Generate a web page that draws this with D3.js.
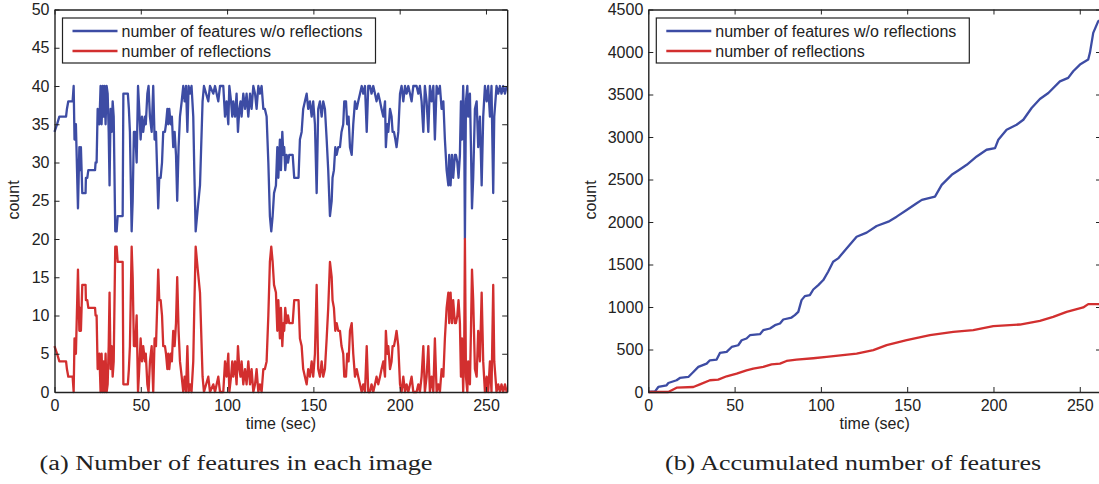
<!DOCTYPE html>
<html>
<head>
<meta charset="utf-8">
<script src="https://cdn.jsdelivr.net/npm/d3@7"></script>
<style>
  body { margin: 0; background: #fff; }
  text { font-family: "Liberation Sans", Arial, sans-serif; fill: #222; }
  .caption { font-family: "Liberation Serif", "DejaVu Serif", serif; }
</style>
</head>
<body>
<div id="chart"></div>
<script>
// ---- data ----

// (a) per-image counts
var frameTime = [
  0, 1.5, 2.8, 6.7, 7.2, 8.0, 10.5, 11.1, 11.6, 12.4,
  13.6, 14.4, 14.8, 15.3, 15.7, 16.1, 18.0, 18.2, 19.0, 19.6,
  23.5, 23.8, 24.4, 25.0, 26.0, 26.7, 27.3, 27.9, 28.5, 29.0,
  29.6, 30.2, 30.8, 31.4, 31.9, 32.5, 33.1, 33.7, 34.3, 35.2,
  36.0, 36.6, 39.5, 39.9, 42.5, 43.1, 43.7, 44.7, 45.3, 46.0,
  46.8, 47.6, 48.4, 49.1, 49.9, 50.7, 51.4, 52.4, 52.9, 53.8,
  54.5, 55.3, 56.3, 57.2, 58.0, 58.8, 59.6, 60.1, 60.7, 61.5,
  62.3, 63.0, 64.0, 64.6, 65.4, 65.9, 66.5, 67.3, 68.0, 68.8,
  69.6, 70.4, 71.1, 71.9, 72.7, 73.7, 74.6, 75.4, 76.2, 77.0,
  77.7, 78.5, 79.4, 80.4, 81.0, 81.8, 83.0, 84.3, 85.8, 86.6,
  89.1, 90.1, 92.0, 93.0, 94.9, 95.9, 97.8, 98.8, 99.7, 100.7,
  101.3, 102.3, 103.0, 103.6, 104.6, 105.5, 106.3, 107.1, 107.8, 108.4,
  109.4, 110.4, 111.3, 112.3, 113.3, 114.2, 115.2, 116.2, 117.1, 118.1,
  119.0, 120.0, 121.0, 121.9, 122.9, 123.9, 124.8, 125.6, 126.4, 127.2,
  128.3, 129.1, 129.7, 130.6, 131.2, 132.0, 132.6, 133.1, 133.7, 134.5,
  135.3, 136.0, 136.8, 138.0, 138.9, 140.3, 141.4, 142.2, 143.2, 144.1,
  145.1, 146.1, 147.0, 148.0, 149.0, 149.9, 150.9, 151.9, 152.8, 153.8,
  154.8, 155.7, 156.7, 157.7, 158.6, 159.6, 160.6, 161.1, 161.9, 162.7,
  163.5, 164.4, 165.4, 166.3, 167.3, 167.9, 168.9, 169.6, 170.4, 171.2,
  172.2, 173.1, 174.1, 175.1, 176.0, 177.0, 178.0, 178.9, 179.9, 180.9,
  181.8, 182.8, 183.7, 184.7, 185.7, 186.6, 187.6, 188.6, 189.5, 190.5,
  191.5, 192.0, 192.8, 193.4, 194.4, 195.3, 195.9, 196.7, 197.5, 198.2,
  199.2, 200.2, 201.1, 202.1, 203.1, 204.0, 205.0, 206.0, 206.9, 207.9,
  209.8, 210.8, 211.7, 212.7, 213.7, 214.6, 215.6, 216.6, 217.5, 218.5,
  219.5, 220.4, 221.4, 222.4, 223.3, 224.3, 225.3, 226.2, 227.2, 228.2,
  228.7, 229.5, 230.3, 231.0, 232.0, 232.6, 233.4, 234.1, 234.9, 235.5,
  236.1, 236.8, 237.4, 237.8, 238.4, 239.2, 239.7, 240.7, 241.3, 241.9,
  242.6, 243.6, 244.6, 245.5, 246.5, 247.5, 248.4, 249.4, 250.4, 251.3,
  252.3, 253.2, 254.2, 254.8, 255.8, 256.1, 257.1, 258.1, 259.0, 260.0,
  261.0, 262.0
]
var featuresNoRefl = [
  34, 35, 36, 36, 37, 38, 38, 40, 33, 35,
  24, 32, 29, 32, 29, 26, 26, 28, 28, 29,
  29, 30, 30, 37, 35, 40, 35, 40, 36, 40,
  35, 40, 39, 34, 27, 37, 34, 38, 36, 21,
  21, 23, 23, 39, 39, 37, 34, 21, 25, 34,
  34, 30, 40, 37, 33, 36, 34, 36, 35, 39,
  40, 36, 34, 40, 33, 34, 28, 24, 28, 28,
  30, 34, 34, 35, 37, 35, 37, 35, 36, 32,
  34, 31, 25, 32, 36, 38, 40, 38, 40, 34,
  40, 39, 40, 36, 29, 21, 24, 27, 38, 40,
  38, 40, 39, 40, 38, 40, 40, 36, 38, 35,
  40, 38, 36, 38, 36, 39, 34, 37, 38, 36,
  39, 37, 39, 36, 39, 37, 40, 39, 37, 40,
  39, 40, 37, 37, 36, 30, 23, 21, 23, 26,
  27, 32, 28, 33, 29, 34, 31, 32, 29, 31,
  30, 31, 31, 31, 28, 28, 28, 33, 34, 37,
  38, 39, 37, 38, 36, 38, 35, 26, 37, 38,
  36, 38, 37, 33, 29, 23, 25, 28, 29, 32,
  31, 32, 32, 34, 35, 38, 38, 35, 36, 32,
  31, 35, 38, 37, 38, 39, 40, 39, 40, 34,
  40, 40, 39, 40, 39, 38, 39, 38, 37, 36,
  38, 32, 35, 34, 37, 36, 34, 34, 33, 32,
  34, 39, 40, 38, 40, 39, 40, 39, 38, 40,
  40, 39, 40, 38, 34, 40, 38, 34, 40, 38,
  40, 33, 40, 39, 40, 37, 38, 33, 29, 27,
  31, 27, 31, 28, 31, 31, 30, 28, 31, 38,
  33, 40, 34, 20, 38, 40, 36, 39, 32, 24,
  28, 37, 38, 32, 36, 27, 36, 40, 38, 40,
  36, 40, 26, 36, 39, 40, 39, 40, 39, 40,
  39, 40
]
var reflections = [
  6, 5, 4, 4, 3, 2, 2, 0, 7, 5,
  16, 8, 11, 8, 11, 14, 14, 12, 12, 11,
  11, 10, 10, 3, 5, 0, 5, 0, 4, 0,
  5, 0, 1, 6, 13, 3, 6, 2, 4, 19,
  19, 17, 17, 1, 1, 3, 6, 19, 15, 6,
  6, 10, 0, 3, 7, 4, 6, 4, 5, 1,
  0, 4, 6, 0, 7, 6, 12, 16, 12, 12,
  10, 6, 6, 5, 3, 5, 3, 5, 4, 8,
  6, 9, 15, 8, 4, 2, 0, 2, 0, 6,
  0, 1, 0, 4, 11, 19, 16, 13, 2, 0,
  2, 0, 1, 0, 2, 0, 0, 4, 2, 5,
  0, 2, 4, 2, 4, 1, 6, 3, 2, 4,
  1, 3, 1, 4, 1, 3, 0, 1, 3, 0,
  1, 0, 3, 3, 4, 10, 17, 19, 17, 14,
  13, 8, 12, 7, 11, 6, 9, 8, 11, 9,
  10, 9, 9, 9, 12, 12, 12, 7, 6, 3,
  2, 1, 3, 2, 4, 2, 5, 14, 3, 2,
  4, 2, 3, 7, 11, 17, 15, 12, 11, 8,
  9, 8, 8, 6, 5, 2, 2, 5, 4, 8,
  9, 5, 2, 3, 2, 1, 0, 1, 0, 6,
  0, 0, 1, 0, 1, 2, 1, 2, 3, 4,
  2, 8, 5, 6, 3, 4, 6, 6, 7, 8,
  6, 1, 0, 2, 0, 1, 0, 1, 2, 0,
  0, 1, 0, 2, 6, 0, 2, 6, 0, 2,
  0, 7, 0, 1, 0, 3, 2, 7, 11, 13,
  9, 13, 9, 12, 9, 9, 10, 12, 9, 2,
  7, 0, 6, 20, 2, 0, 4, 1, 8, 16,
  12, 3, 2, 8, 4, 13, 4, 0, 2, 0,
  4, 0, 14, 4, 1, 0, 1, 0, 1, 0,
  1, 0
]

// (b) accumulated counts
var accTimeBlue = [0, 3.9, 5.8, 10.6, 11.6, 16.4, 18.3, 23.2, 26.1, 29.0, 33.8, 35.7, 39.6, 41.5, 45.4,
  48.3, 52.1, 54.1, 56.9, 58.9, 64.7, 66.6, 70.5, 73.4, 76.3, 78.2, 83.0, 84.9, 86.9, 88.8,
  90.7, 93.6, 95.6, 98.5, 101.4, 104.2, 107.1, 110.0, 115.0, 120.7, 126.5, 132.3, 139.1, 143.9,
  149.7, 155.5, 158.5, 166.1, 170.0, 175.8, 179.6, 184.5, 190.3, 196.0, 200.9, 202.8, 207.6,
  213.4, 217.3, 222.1, 226.9, 231.8, 238.5, 243.3, 246.2, 250.1, 254.9, 255.9, 257.8, 260.7, 262.3]
var accFeatures = [0, 8, 59, 79, 106, 138, 165, 177, 236, 295, 334, 373, 381, 460, 472,
  530, 550, 609, 629, 668, 680, 727, 747, 786, 806, 853, 876, 904, 943, 1081,
  1128, 1140, 1206, 1258, 1317, 1415, 1533, 1572, 1690, 1827, 1875, 1953, 2004, 2063,
  2142, 2220, 2260, 2299, 2437, 2555, 2606, 2673, 2771, 2850, 2870, 2968, 3086,
  3144, 3203, 3341, 3447, 3518, 3655, 3695, 3773, 3852, 3911, 3993, 4225, 4362, 4380]
var accTimeRed = [0, 11.6, 16.4, 26.1, 29.9, 35.7, 40.5, 45.4, 51.2, 56.9, 60.8, 66.6, 71.4, 76.3,
  80.1, 85.9, 95.6, 103.3, 110.0, 120.7, 130.4, 138.1, 149.7, 163.2, 176.7, 188.3, 199.9,
  215.3, 226.9, 234.6, 242.4, 252.0, 254.9, 262.3]
var accReflections = [0, 0, 51, 59, 90, 138, 145, 185, 216, 255, 275, 295, 326, 334,
  365, 381, 397, 413, 428, 452, 492, 551, 609, 668, 707, 727, 775,
  794, 837, 884, 943, 995, 1034, 1034]

var xTicks = [0, 50, 100, 150, 200, 250]
var yTicksA = [0, 5, 10, 15, 20, 25, 30, 35, 40, 45, 50]
var yTicksB = [0, 500, 1000, 1500, 2000, 2500, 3000, 3500, 4000, 4500]
var legendLabels = ["number of features w/o reflections", "number of reflections"]
var captions = ["(a) Number of features in each image", "(b) Accumulated number of features"]

var blue = "#3d4ca4", red = "#d22f2f", ink = "#222"

var svg = d3.select("#chart").append("svg")
    .attr("width", 1099)
    .attr("height", 484)

function zip(ts, vs) {
  return ts.map(function (t, i) { return [t, vs[i]] })
}

function panel(opt) {
  var x = d3.scaleLinear().domain([0, 262.3]).range([opt.left, opt.left + 452.7])
  var y = d3.scaleLinear().domain([0, opt.ymax]).range([392, 9.5])

  var g = svg.append("g")

  var line = d3.line()
      .x(function (d) { return x(d[0]) })
      .y(function (d) { return y(d[1]) })

  opt.series.forEach(function (s) {
    g.append("path")
      .datum(s.data)
      .attr("fill", "none")
      .attr("stroke", s.color)
      .attr("stroke-width", 2.3)
      .attr("stroke-linejoin", "round")
      .attr("d", line)
  })

  // box with inward ticks on all sides
  var fmt = d3.format("d")
  var axes = [
    { a: d3.axisBottom(x).tickValues(xTicks).tickFormat(fmt), tr: "translate(0,392)" },
    { a: d3.axisTop(x).tickValues(xTicks).tickFormat(""), tr: "translate(0,9.5)" },
    { a: d3.axisLeft(y).tickValues(opt.yTicks).tickFormat(fmt), tr: "translate(" + opt.left + ",0)" },
    { a: d3.axisRight(y).tickValues(opt.yTicks).tickFormat(""), tr: "translate(" + (opt.left + 452.7) + ",0)" }
  ]
  axes.forEach(function (ax, i) {
    var ag = g.append("g")
      .attr("transform", ax.tr)
      .call(ax.a.tickSizeInner(-5).tickSizeOuter(0).tickPadding(i == 0 ? 8 : 5))
    ag.select(".domain").attr("stroke", ink).attr("stroke-width", 1.4)
    ag.selectAll(".tick line").attr("stroke", ink).attr("stroke-width", 1)
    ag.selectAll("text").attr("font-size", 16).attr("fill", ink)
      .attr("font-family", '"Liberation Sans", Arial, sans-serif')
  })

  g.append("text")
    .attr("x", opt.left + 226.4)
    .attr("y", 429)
    .attr("text-anchor", "middle")
    .attr("font-size", 16)
    .text("time (sec)")

  g.append("text")
    .attr("transform", "translate(" + (opt.left - opt.labOff) + ",200) rotate(-90)")
    .attr("text-anchor", "middle")
    .attr("font-size", 16)
    .text("count")

  // legend
  var lx = opt.left + 8
  g.append("rect")
    .attr("x", lx).attr("y", 18)
    .attr("width", 313).attr("height", 45)
    .attr("fill", "#fff")
    .attr("stroke", ink)
    .attr("stroke-width", 1.2)
  legendLabels.forEach(function (lab, i) {
    var ly = 31 + i * 20
    g.append("line")
      .attr("x1", lx + 10).attr("x2", lx + 55)
      .attr("y1", ly).attr("y2", ly)
      .attr("stroke", i == 0 ? blue : red)
      .attr("stroke-width", 2.3)
    g.append("text")
      .attr("x", lx + 59).attr("y", ly + 5.5)
      .attr("font-size", 16)
      .text(lab)
  })

  g.append("text")
    .attr("class", "caption")
    .attr("x", opt.capX)
    .attr("y", 470)
    .attr("text-anchor", "middle")
    .attr("font-size", 20)
    .attr("textLength", opt.capW)
    .attr("lengthAdjust", "spacingAndGlyphs")
    .text(opt.caption)
}

panel({
  left: 54.5, ymax: 50, yTicks: yTicksA, labOff: 36,
  series: [{ data: zip(frameTime, featuresNoRefl), color: blue },
           { data: zip(frameTime, reflections), color: red }],
  caption: captions[0], capX: 236, capW: 393
})

panel({
  left: 648.3, ymax: 4500, yTicks: yTicksB, labOff: 52,
  series: [{ data: zip(accTimeBlue, accFeatures), color: blue },
           { data: zip(accTimeRed, accReflections), color: red }],
  caption: captions[1], capX: 853, capW: 376
})
</script>
</body>
</html>
